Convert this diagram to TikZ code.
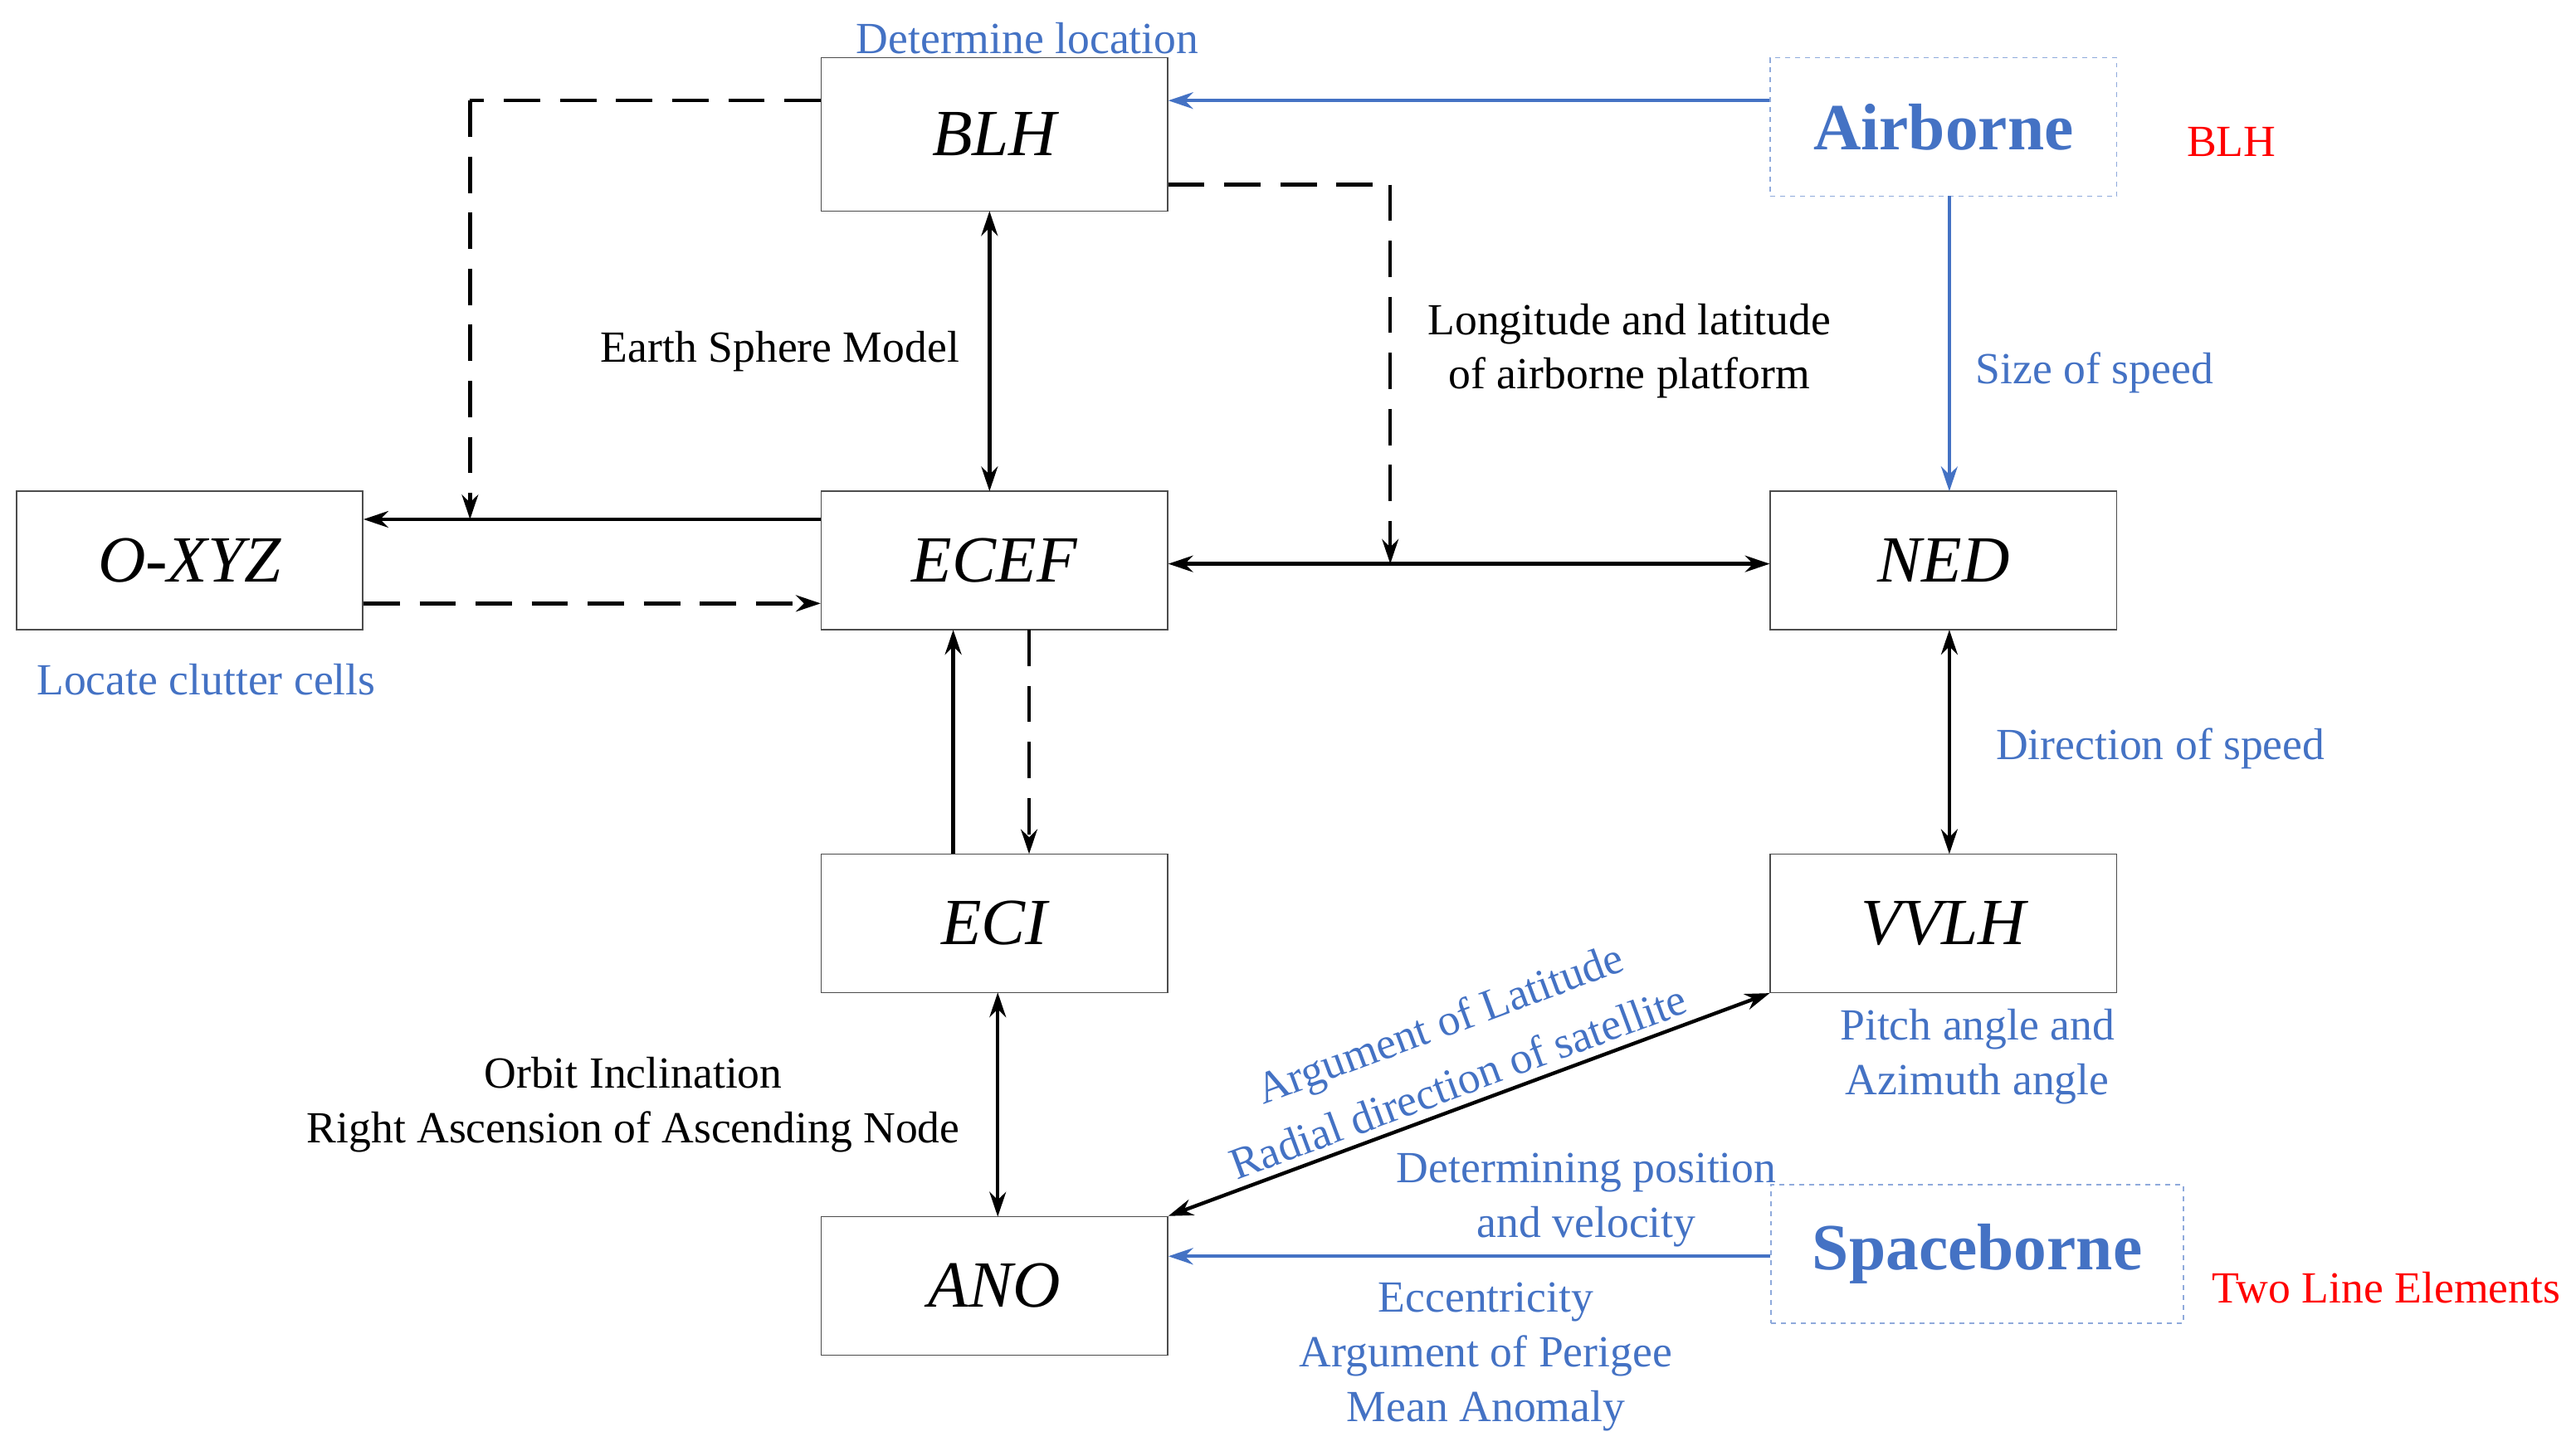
\documentclass[tikz,border=0pt]{standalone}
\usepackage{fontspec}
\setmainfont{Liberation Serif}
\usetikzlibrary{arrows.meta}
\definecolor{bl}{HTML}{4472C4}
\begin{document}
\begin{tikzpicture}[x=1pt,y=-1pt,
 box/.style={draw=black!70,line width=0.8pt,minimum width=210pt,minimum height=84pt,font=\fontsize{40}{42}\selectfont\itshape,inner sep=0},
 dbox/.style={draw=bl!60,dashed,line width=0.8pt,minimum width=210pt,minimum height=84pt,font=\fontsize{40}{42}\selectfont\bfseries,text=bl,inner sep=0},
 lab/.style={font=\fontsize{27}{33}\selectfont,align=center},
 blab/.style={lab,text=bl},
 ar/.style={-{Stealth[length=15pt,width=10pt]},line width=2.2pt},
 dar/.style={ar,dash pattern=on 22pt off 12pt},
 bar/.style={ar,draw=bl,color=bl},
 dd/.style={{Stealth[length=15pt,width=10pt]}-{Stealth[length=15pt,width=10pt]}}]
\useasboundingbox (0,0) rectangle (1562,880);
\node[box,minimum height=93pt] (blh) at (603,81.5) {BLH};
\node[box] (oxyz) at (115,340) {O-XYZ};
\node[box] (ecef) at (603,340) {ECEF};
\node[box] (ned) at (1178.5,340) {NED};
\node[box] (eci) at (603,560) {ECI};
\node[box] (vvlh) at (1178.5,560) {VVLH};
\node[box] (ano) at (603,780) {ANO};
\node[dbox] (air) at (1178.5,77) {Airborne};
\node[dbox,minimum width=250pt] (space) at (1199,760.5) {Spaceborne};
\coordinate (c1) at (285,61); \coordinate (c2) at (285,315);
\coordinate (c3) at (843,112); \coordinate (c4) at (843,342);
\draw[bar] (air.west|-0,61) -- (blh.east|-0,61);
\draw[bar] (1182,119) -- (1182,298);
\draw[bar] (space.west|-0,762) -- (ano.east|-0,762);
\draw[dar,-] (blh.west|-0,61) -- (c1);
\draw[dar] (c1) -- (c2);
\draw[ar] (ecef.west|-0,315) -- (oxyz.east|-0,315);
\draw[dar] (oxyz.east|-0,366) -- (ecef.west|-0,366);
\draw[dar,-] (blh.east|-0,112) -- (c3);
\draw[dar] (c3) -- (c4);
\draw[ar,dd] (ecef.east|-0,342) -- (ned.west|-0,342);
\draw[ar,dd] (600,128) -- (600,298);
\draw[ar] (578,518) -- (578,382);
\draw[dar] (624,382) -- (624,518);
\draw[ar,dd] (605,602) -- (605,738);
\draw[ar,dd] (1182,382) -- (1182,518);
\draw[ar,dd] (vvlh.south west) -- (ano.north east);
\node[blab] (t1) at (623,23) {Determine location};
\node[lab,text=red] (t2) at (1353,86) {BLH};
\node[lab] (t3) at (473,213) {Earth Sphere Model};
\node[lab] (t4) at (988,213) {Longitude and latitude\\of airborne platform};
\node[blab] (t5) at (1270,226) {Size of speed};
\node[blab] (t6) at (125,412) {Locate clutter cells};
\node[blab] (t7) at (1310,454) {Direction of speed};
\node[blab] (t8) at (1199,641) {Pitch angle and\\Azimuth angle};
\node[lab] (t9) at (384,670) {Orbit Inclination\\Right Ascension of Ascending Node};
\node[blab,rotate=20.4] (t10) at (874,623) {Argument of Latitude};
\node[blab,rotate=20.4] (t11) at (884,656) {Radial direction of satellite};
\node[blab] (t12) at (962,728) {Determining position\\and velocity};
\node[blab] (t13) at (901,823) {Eccentricity\\Argument of Perigee\\Mean Anomaly};
\node[lab,text=red] (t14) at (1447,781) {Two Line Elements};
\end{tikzpicture}
\end{document}
